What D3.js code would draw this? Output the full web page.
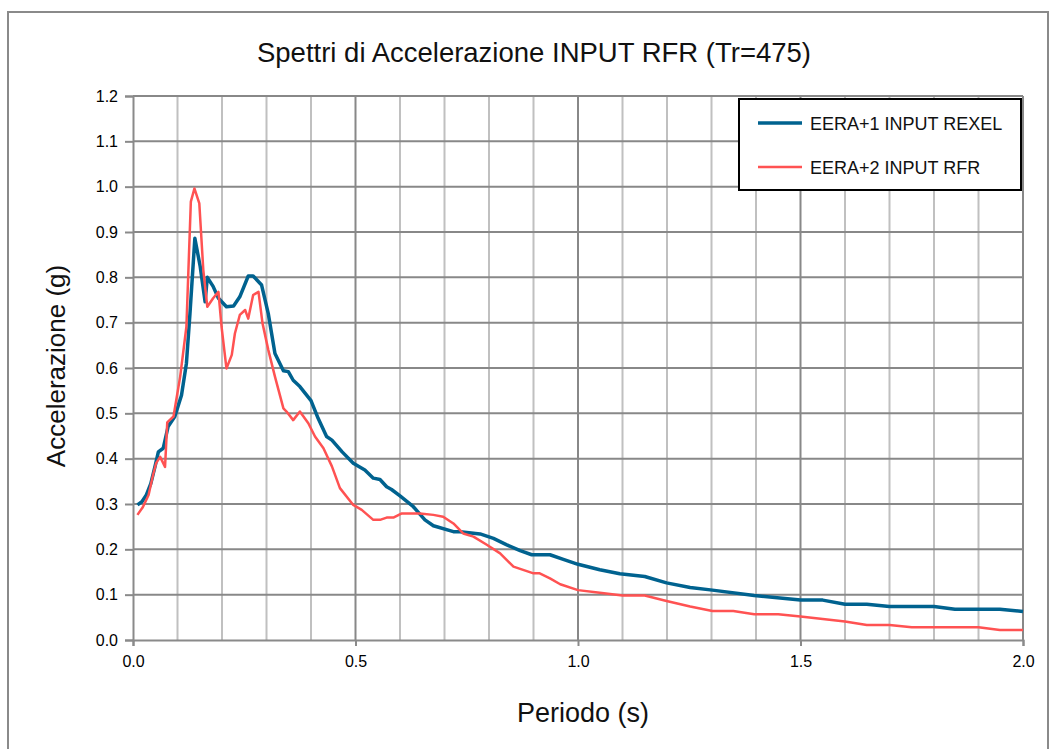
<!DOCTYPE html>
<html>
<head>
<meta charset="utf-8">
<script src="https://cdn.jsdelivr.net/npm/d3@7"></script>
<style>
  html, body { margin: 0; padding: 0; background: #fff; }
  svg { display: block; font-family: "Liberation Sans", Arial, sans-serif; }
</style>
</head>
<body>
<svg id="chart" width="1058" height="749"></svg>
<script>
// Response spectra: period (s) vs spectral acceleration (g)
const periodRexel = [0.01,0.02,0.03,0.04,0.05,0.057,0.068,0.079,0.094,0.109,0.12,0.128,0.139,0.151,0.162,0.167,0.18,0.192,0.21,0.226,0.24,0.259,0.27,0.289,0.304,0.319,0.338,0.349,0.36,0.375,0.40,0.416,0.435,0.447,0.47,0.495,0.521,0.54,0.555,0.57,0.581,0.60,0.63,0.656,0.675,0.72,0.735,0.78,0.81,0.84,0.87,0.896,0.937,0.967,1.0,1.049,1.094,1.15,1.199,1.252,1.302,1.396,1.5,1.55,1.6,1.649,1.70,1.8,1.847,1.948,2.0];
const accRexel = [0.298,0.305,0.32,0.345,0.385,0.415,0.423,0.471,0.493,0.54,0.61,0.72,0.886,0.824,0.746,0.80,0.78,0.754,0.735,0.737,0.757,0.803,0.803,0.783,0.72,0.632,0.594,0.592,0.573,0.559,0.528,0.489,0.449,0.441,0.415,0.39,0.375,0.357,0.354,0.338,0.332,0.318,0.294,0.265,0.252,0.239,0.239,0.234,0.224,0.21,0.197,0.188,0.188,0.178,0.167,0.155,0.146,0.14,0.126,0.116,0.11,0.098,0.088,0.088,0.079,0.079,0.074,0.074,0.068,0.068,0.063];

const periodRfr = [0.01,0.022,0.035,0.045,0.052,0.061,0.072,0.077,0.091,0.106,0.12,0.13,0.138,0.149,0.158,0.167,0.18,0.192,0.199,0.21,0.222,0.229,0.24,0.252,0.259,0.27,0.282,0.291,0.304,0.319,0.338,0.345,0.36,0.375,0.394,0.409,0.428,0.447,0.465,0.495,0.514,0.54,0.555,0.57,0.585,0.603,0.645,0.675,0.697,0.72,0.742,0.765,0.795,0.825,0.855,0.90,0.914,0.937,0.96,1.0,1.049,1.1,1.15,1.199,1.252,1.302,1.349,1.396,1.45,1.5,1.6,1.649,1.70,1.75,1.9,1.948,2.0];
const accRfr = [0.276,0.293,0.32,0.364,0.39,0.404,0.382,0.48,0.493,0.581,0.691,0.967,0.996,0.963,0.816,0.735,0.754,0.768,0.691,0.599,0.629,0.676,0.717,0.728,0.709,0.761,0.768,0.699,0.64,0.581,0.511,0.504,0.485,0.504,0.478,0.449,0.423,0.383,0.335,0.298,0.287,0.265,0.265,0.27,0.27,0.279,0.279,0.276,0.272,0.257,0.235,0.228,0.21,0.191,0.162,0.147,0.147,0.136,0.123,0.11,0.104,0.098,0.098,0.086,0.074,0.064,0.064,0.057,0.057,0.052,0.041,0.033,0.033,0.028,0.028,0.022,0.022];

const seriesNames = ["EERA+1 INPUT REXEL", "EERA+2 INPUT RFR"];
const seriesColors = ["#00628f", "#ff5252"];
const xTickValues = [0, 0.5, 1.0, 1.5, 2.0];
const yTickValues = [0,0.1,0.2,0.3,0.4,0.5,0.6,0.7,0.8,0.9,1.0,1.1,1.2];
const xMinorValues = d3.range(0, 21).map(i => i / 10);

const svg = d3.select("#chart");
const plotLeft = 133, plotRight = 1023, plotTop = 96, plotBottom = 640;

const x = d3.scaleLinear().domain([0, 2]).range([plotLeft, plotRight]);
const y = d3.scaleLinear().domain([0, 1.2]).range([plotBottom, plotTop]);

// outer frame
svg.append("rect")
  .attr("x", 8).attr("y", 12).attr("width", 1040).attr("height", 780)
  .attr("fill", "none").attr("stroke", "#8a8a8a").attr("stroke-width", 2);

// vertical grid (0.1 s), darker at every 0.5 s
svg.append("g").selectAll("line").data(xMinorValues.filter(v => v > 0)).join("line")
  .attr("x1", d => x(d)).attr("x2", d => x(d))
  .attr("y1", plotTop).attr("y2", plotBottom)
  .attr("stroke", d => (Math.round(d * 10) % 5 === 0) ? "#888" : "#c0c0c0")
  .attr("stroke-width", 2);

// horizontal grid
svg.append("g").selectAll("line").data(yTickValues.filter(v => v > 0)).join("line")
  .attr("x1", plotLeft).attr("x2", plotRight)
  .attr("y1", d => y(d)).attr("y2", d => y(d))
  .attr("stroke", "#888").attr("stroke-width", 2);

// axes
const yAxis = d3.axisLeft(y).tickValues(yTickValues).tickFormat(d3.format(".1f")).tickSize(8).tickPadding(7);
const gy = svg.append("g").attr("transform", `translate(${plotLeft},0)`).call(yAxis);
const xAxis = d3.axisBottom(x).tickValues(xTickValues).tickFormat(d3.format(".1f")).tickSize(6).tickPadding(10);
const gx = svg.append("g").attr("transform", `translate(0,${plotBottom})`).call(xAxis);
[gx, gy].forEach(g => {
  g.select(".domain").attr("stroke", "#8a8a8a").attr("stroke-width", 2);
  g.selectAll(".tick line").attr("stroke", "#8a8a8a").attr("stroke-width", 2);
  g.selectAll(".tick text").attr("fill", "#000").style("font-size", "16px")
    .style("font-family", "'Liberation Sans', Arial, sans-serif");
});

// spectra
const line = d3.line().x(d => x(d[0])).y(d => y(d[1]));
const blueData = d3.zip(periodRexel, accRexel);
const redData = d3.zip(periodRfr, accRfr);
svg.append("path").datum(blueData).attr("d", line)
  .attr("fill", "none").attr("stroke", seriesColors[0]).attr("stroke-width", 3.5)
  .attr("stroke-linejoin", "round");
svg.append("path").datum(redData).attr("d", line)
  .attr("fill", "none").attr("stroke", seriesColors[1]).attr("stroke-width", 2.5)
  .attr("stroke-linejoin", "round");

// title and axis titles
svg.append("text").attr("x", 534).attr("y", 62).attr("text-anchor", "middle")
  .style("font-size", "27.5px").attr("fill", "#111")
  .text("Spettri di Accelerazione INPUT RFR (Tr=475)");
svg.append("text").attr("x", 583).attr("y", 722).attr("text-anchor", "middle")
  .style("font-size", "27px").attr("fill", "#111").text("Periodo (s)");
svg.append("text").attr("transform", "translate(65,366) rotate(-90)").attr("text-anchor", "middle")
  .style("font-size", "26px").attr("fill", "#111").text("Accelerazione (g)");

// legend
const lg = svg.append("g");
lg.append("rect").attr("x", 739).attr("y", 99).attr("width", 282).attr("height", 91)
  .attr("fill", "#fff").attr("stroke", "#000").attr("stroke-width", 2);
seriesNames.forEach((name, i) => {
  const yy = 123 + i * 44;
  lg.append("line").attr("x1", 758).attr("x2", 802).attr("y1", yy).attr("y2", yy)
    .attr("stroke", seriesColors[i]).attr("stroke-width", i === 0 ? 3.5 : 2.5);
  lg.append("text").attr("x", 810).attr("y", yy + 7).style("font-size", "18px")
    .attr("fill", "#111").text(name);
});
</script>
</body>
</html>
